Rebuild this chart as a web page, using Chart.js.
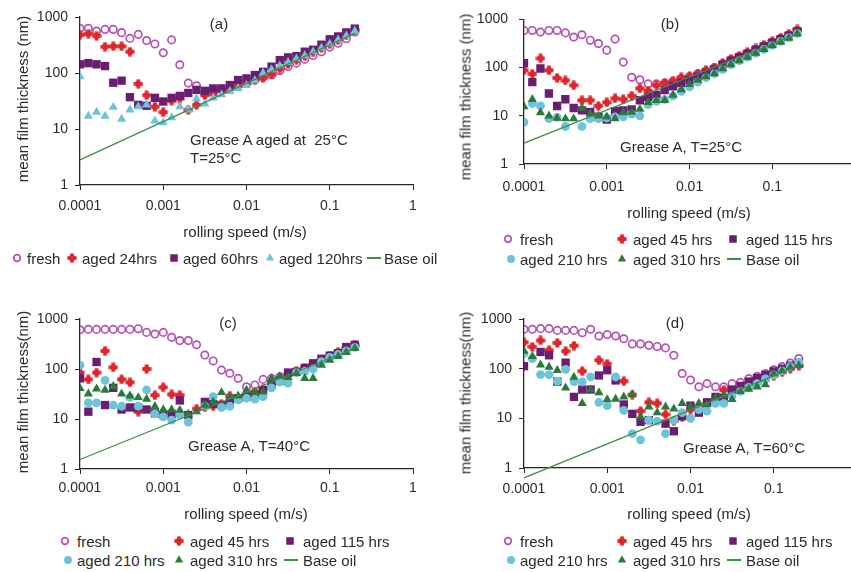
<!DOCTYPE html>
<html><head><meta charset="utf-8">
<script src="https://cdn.jsdelivr.net/npm/chart.js@4"></script>
<style>
html,body{margin:0;padding:0;background:#fff;overflow:hidden;width:851px;height:572px;}
#root{position:relative;width:851px;height:572px;overflow:hidden;font-family:'Liberation Sans',Arial,Helvetica,sans-serif;color:#2b2b2b;}
.cv{position:absolute;}
.t{position:absolute;white-space:pre;font-size:15px;line-height:1;}
.c{transform:translate(-50%,-50%);}
.l{transform:translate(0,-50%);}
.r{transform:translate(-50%,-50%) rotate(-90deg);}
</style></head><body><div id="root"></div>
<script>
// ---------- data ----------
const speeds = [0.0001,0.000126,0.000158,0.0002,0.000251,0.000316,0.000398,0.000501,0.000631,0.000794,
  0.001,0.00126,0.00158,0.002,0.00251,0.00316,0.00398,0.00501,0.00631,0.00794,
  0.01,0.0126,0.0158,0.02,0.0251,0.0316,0.0398,0.0501,0.0631,0.0794,
  0.1,0.126,0.158,0.2];
const xTickValues = [0.0001,0.001,0.01,0.1,1];
const xTickLabels = ['0.0001','0.001','0.01','0.1','1'];
const yTickValues = [1,10,100,1000];
const yTickLabels = ['1','10','100','1000'];
const baseOilSpeeds = [0.0001,0.2];

// panel (a)
const aFresh = [630,630,560,600,600,525,415,490,380,330, 230,390,140,66,59, 45,48,52,56,62, 68,76,84,92,110, 130,150,175,205,240, 290,340,410,540];
const aAged24 = [480,500,460,295,300,300,240,64,40,25, 20,32,35,22,27, 40,42,48,52,58, 65,75,83,95,120, 145,170,200,235,280, 330,390,470,590];
const aAged60 = [143,150,143,133,67,73,37,27,26,36, 31,36,39,44,50, 48,53,53,61,75, 80,92,105,130,170, 190,200,240,260,320, 400,450,530,620];
const aAged120 = [86,17,20,17,24.5,15,22,25,27,14, 13,16,25,22,35, 28,36,41,47,53, 60,73,100,115,135, 155,180,205,240,280, 330,390,460,560];
const aBaseOil = [2.8,510];

// panel (b)
const bFresh = [590,590,545,590,590,525,430,480,370,315, 230,390,130,63,56, 46,46,48,52,58, 65,75,85,100,120, 145,170,200,240,285, 340,400,480,590];
const bAged45 = [88,74,155,88,61,54,43,21,21,16, 19,23,22,26,37, 33,43,48,52,63, 66,75,88,100,125, 150,175,210,250,295, 350,420,500,620];
const bAged115 = [123,50,96,29,16,22,14.5,13,12,9.6, 8.3,12.5,13,13.5,21, 24.5,27,34,41,48, 54,65,78,92,115, 140,165,195,235,275, 330,390,460,560];
const bAged210 = [7.4,18,16,8.7,9.3,6,null,6,8.7,8.7, 9,9.5,9.5,10.8,10, 17,20,22,26,32, 40,50,62,75,92, 115,140,165,200,240, 290,350,420,510];
const bAged310 = [15.5,22,11.7,10,9,8.7,8.7,14.5,11,10, 9.5,8.7,11.7,12,13.7, 19,21,21,27,35, 45,55,65,75,95, 115,140,165,200,240, 290,340,410,500];
const bBaseOil = [2.7,500];

// panel (c)
const cFresh = [610,620,620,620,620,620,620,640,540,500, 540,430,370,370,305, 190,145,95,82,65, 44,48,62,65,70, 78,88,100,120,145, 175,210,250,290];
const cAged45 = [85,62,85,230,108,62,54,14,100,30, 43,31,30,null,16, 17,18,20,29,25, 30,35,40,52,62, 78,90,105,125,150, 180,215,265,300];
const cAged115 = [65,14,138,19,42,15.5,17,17,15.5,13, 12,12.6,23.5,12,null, 22,20,19,21,26, 28,30,38,50,58, 85,88,105,130,160, 185,208,275,305];
const cAged210 = [120,21,21,59,19,18,27,18,38,12.6, 11,9.5,12,8.7,null, 18,28,17,18,24, 26,25,28,42,55, 52,85,90,100,140, 170,195,230,270];
const cAged310 = [41,32,40,38,45,32,29,27,25,18, 15.5,15.5,15,12.6,14, 19,22,34,28,29, 38,34,35,65,71, 68,82,65,65,120, 150,180,215,260];
const cBaseOil = [1.55,260];

// panel (d)
const dFresh = [620,620,640,640,590,590,590,530,620,455, 485,455,400,315,315, 295,280,262,186,80, 59,43,50,43,43, 50,53,63,70,80, 95,110,130,160];
const dAged45 = [340,275,370,235,330,225,290,89,null,148, 125,null,56,30,14, 21,20,12,9,10.7, 15,17,20,26,37, 36,40,45,52,60, 72,85,100,115];
const dAged115 = [112,null,217,186,55,132,27,38,38,73, 93,58,19,12.3,8.5, 9.2,null,7.8,5.5,11, 18,13,21,27,26, 38,45,55,65,75, 88,100,115,130];
const dAged210 = [200,160,76,76,56,97,55,54,68,21, 18,68,14.5,4.9,3.7, 9.2,8.8,4.9,9.2,13, 10,15,14,20,20, 28,35,42,50,62, 75,90,110,135];
const dAged310 = [225,178,120,108,93,41,68,20,38,33, 24,24.5,27,30,10.7, 17,13,17,15.5,20, 17,20,19,26,29, 24,35,39,43,48, 80,90,105,115];
const dBaseOil = [0.63,115];

// ---------- styling ----------
const FONT = "'Liberation Sans', Arial, Helvetica, sans-serif";
const TXT = '#2b2b2b';
const AX = '#262626';
const COL = {fresh:'#b452b4', red:'#e2252b', purple:'#6a1e72', cyan:'#6cc3da', green:'#2a7a3a', base:'#3e8e46'};
const root = document.getElementById('root');

function plusImg(color){
  const c = document.createElement('canvas'); c.width = 10; c.height = 10;
  const g = c.getContext('2d'); g.fillStyle = color;
  g.beginPath(); g.arc(5,5,3.2,0,Math.PI*2); g.fill();
  g.fillRect(3.2,0.4,3.6,9.2); g.fillRect(0.4,3.2,9.2,3.6);
  return c;
}
const RED_PLUS = plusImg(COL.red);
const STY = {
  fresh:  {ps:'circle', r:3.7, bg:'rgba(255,255,255,0)', bc:COL.fresh, bw:1.7},
  red:    {ps:RED_PLUS, r:5, bg:COL.red, bc:COL.red, bw:0},
  purple: {ps:'rect', r:5.9, bg:COL.purple, bc:COL.purple, bw:0},
  cyanC:  {ps:'circle', r:4.4, bg:COL.cyan, bc:COL.cyan, bw:0},
  cyanT:  {ps:'triangle', r:5.3, bg:COL.cyan, bc:COL.cyan, bw:0},
  green:  {ps:'triangle', r:5.3, bg:COL.green, bc:COL.green, bw:0}
};

function pts(vals){ const out=[]; vals.forEach((v,i)=>{ if(v!==null) out.push({x:speeds[i], y:v}); }); return out; }
function ds(label, vals, s, order){
  return {label, data:pts(vals), showLine:false, order, pointStyle:s.ps, pointRadius:s.r, pointHoverRadius:s.r,
    pointBackgroundColor:s.bg, pointBorderColor:s.bc, pointBorderWidth:s.bw};
}
function baseDs(vals){
  return {label:'Base oil', data:baseOilSpeeds.map((x,i)=>({x, y:vals[i]})), showLine:true, order:0,
    borderColor:COL.base, borderWidth:1.3, pointRadius:0, pointHoverRadius:0, clip:false, fill:false};
}

function panel(p){
  const cv = document.createElement('canvas');
  cv.className='cv'; cv.width=425; cv.height=225;
  cv.style.left=p.left+'px'; cv.style.top=p.top+'px'; cv.style.width='425px'; cv.style.height='225px';
  root.appendChild(cv);
  const tickFont = {family:FONT, size:14};
  new Chart(cv, {
    type:'scatter',
    data:{datasets:p.datasets},
    options:{
      responsive:false, animation:false, devicePixelRatio:1,
      layout:{padding:{left:0, right:12, top:p.padTop, bottom:0}},
      plugins:{legend:{display:false}, tooltip:{enabled:false}},
      scales:{
        x:{type:'logarithmic', min:0.0001, max:1,
          afterBuildTicks:s=>{ s.ticks = xTickValues.map(v=>({value:v})); },
          afterFit:s=>{ s.height = 225 - (p.bottom - p.top); },
          ticks:{autoSkip:false, maxRotation:0, minRotation:0, padding:p.xpad, color:TXT, font:tickFont,
            callback:(v,i)=>xTickLabels[i]},
          grid:{display:true, drawOnChartArea:false, drawTicks:true, tickLength:5, color:AX, lineWidth:1},
          border:{display:true, color:AX, width:1.3}
        },
        y:{type:'logarithmic', min:1, max:1000,
          afterBuildTicks:s=>{ s.ticks = yTickValues.map(v=>({value:v})); },
          afterFit:s=>{ s.width = 80; },
          ticks:{autoSkip:false, padding:p.ypad, color:TXT, font:tickFont, callback:(v,i)=>yTickLabels[i]},
          grid:{display:true, drawOnChartArea:false, drawTicks:true, tickLength:5, color:AX, lineWidth:1},
          border:{display:true, color:AX, width:1.3}
        }
      }
    }
  });
}

function text(str, x, y, cls){
  const d=document.createElement('div'); d.className='t '+cls; d.textContent=str;
  d.style.left=x+'px'; d.style.top=y+'px'; root.appendChild(d);
}
function marker(s, x, y){
  const c=document.createElement('canvas'); c.width=14; c.height=14;
  c.style.position='absolute'; c.style.left=(x-7)+'px'; c.style.top=(y-7)+'px';
  root.appendChild(c);
  const g=c.getContext('2d');
  g.fillStyle=s.bg; g.strokeStyle=s.bc; g.lineWidth=s.bw;
  Chart.helpers.drawPoint(g, {pointStyle:s.ps, radius:s.r*0.9, borderWidth:s.bw, rotation:0}, 7, 7);
}
function lineMark(x1, x2, y){
  const d=document.createElement('div'); d.style.position='absolute';
  d.style.left=x1+'px'; d.style.top=(y-0.6)+'px'; d.style.width=(x2-x1)+'px'; d.style.height='1.3px';
  d.style.background=COL.base; root.appendChild(d);
}
function legendItem(s, mx, tx, y, label){ marker(s, mx, y); text(label, tx, y, 'l'); }

// ---------- panels ----------
panel({left:0, top:0, padTop:17, bottom:185, xpad:8, ypad:7, datasets:[
  ds('fresh', aFresh, STY.fresh, 5), ds('aged 24hrs', aAged24, STY.red, 4),
  ds('aged 60hrs', aAged60, STY.purple, 3), ds('aged 120hrs', aAged120, STY.cyanT, 2), baseDs(aBaseOil)]});
panel({left:444, top:0, padTop:17, bottom:164, xpad:10, ypad:11, datasets:[
  ds('fresh', bFresh, STY.fresh, 6), ds('aged 45 hrs', bAged45, STY.red, 5),
  ds('aged 115 hrs', bAged115, STY.purple, 4), ds('aged 210 hrs', bAged210, STY.cyanC, 3),
  ds('aged 310 hrs', bAged310, STY.green, 2), baseDs(bBaseOil)]});
panel({left:0, top:300, padTop:19, bottom:469, xpad:6, ypad:7, datasets:[
  ds('fresh', cFresh, STY.fresh, 6), ds('aged 45 hrs', cAged45, STY.red, 5),
  ds('aged 115 hrs', cAged115, STY.purple, 4), ds('aged 210 hrs', cAged210, STY.cyanC, 3),
  ds('aged 310 hrs', cAged310, STY.green, 2), baseDs(cBaseOil)]});
panel({left:444, top:300, padTop:19, bottom:468, xpad:8, ypad:7, datasets:[
  ds('fresh', dFresh, STY.fresh, 6), ds('aged 45 hrs', dAged45, STY.red, 5),
  ds('aged 115 hrs', dAged115, STY.purple, 4), ds('aged 210 hrs', dAged210, STY.cyanC, 3),
  ds('aged 310 hrs', dAged310, STY.green, 2), baseDs(dBaseOil)]});

// ---------- texts ----------
text('(a)', 219, 23, 'c');
text('Grease A aged at  25\u00B0C', 190, 139, 'l');
text('T=25\u00B0C', 190, 157, 'l');
text('rolling speed (m/s)', 245, 231, 'c');
text('mean film thickness (nm)', 22, 99, 'r');

text('(b)', 670, 23, 'c');
text('Grease A, T=25\u00B0C', 620, 146, 'l');
text('rolling speed (m/s)', 689, 212, 'c');
text('mean film thickness (nm)', 465, 97, 'r');

text('(c)', 228, 322, 'c');
text('Grease A, T=40\u00B0C', 188, 445, 'l');
text('rolling speed (m/s)', 246, 513, 'c');
text('mean film thickness(nm)', 22, 392, 'r');

text('(d)', 675, 322, 'c');
text('Grease A, T=60\u00B0C', 683, 447, 'l');
text('rolling speed (m/s)', 689, 513, 'c');
text('mean film thickness(nm)', 465, 393, 'r');

// ---------- legends ----------
legendItem(STY.fresh, 17, 27, 258, 'fresh');
legendItem(STY.red, 72, 82, 258, 'aged 24hrs');
legendItem(STY.purple, 174, 183, 258, 'aged 60hrs');
legendItem(STY.cyanT, 270, 279, 258, 'aged 120hrs');
lineMark(367, 381, 258); text('Base oil', 384, 258, 'l');

function legend6(dx, y1, y2){
  legendItem(STY.fresh, 508+dx, 520+dx, y1, 'fresh');
  legendItem(STY.red, 622+dx, 633+dx, y1, 'aged 45 hrs');
  legendItem(STY.purple, 733+dx, 746+dx, y1, 'aged 115 hrs');
  legendItem(STY.cyanC, 511+dx, 520+dx, y2, 'aged 210 hrs');
  legendItem(STY.green, 622+dx, 633+dx, y2, 'aged 310 hrs');
  lineMark(727+dx, 741+dx, y2); text('Base oil', 746+dx, y2, 'l');
}
legend6(0, 239, 259);
legend6(-443, 541, 560);
legend6(0, 541, 560);
</script></body></html>
